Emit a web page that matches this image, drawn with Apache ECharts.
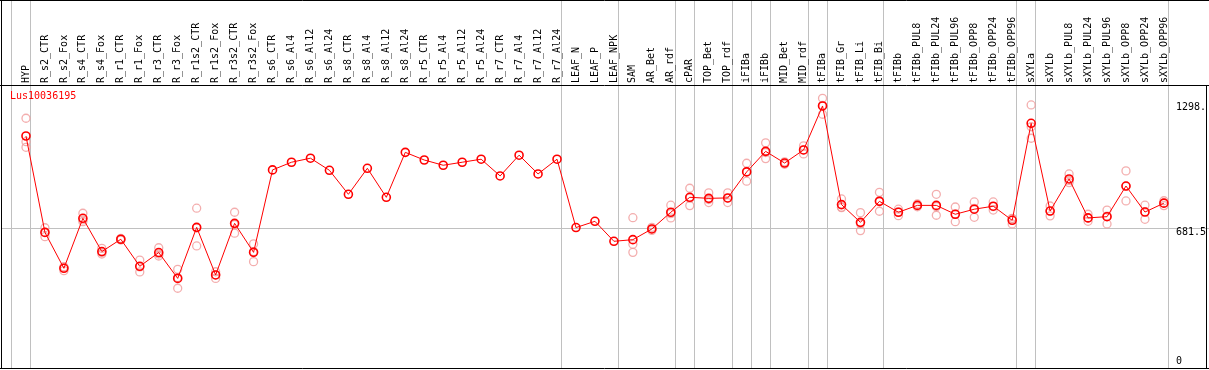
<!DOCTYPE html>
<html><head><meta charset="utf-8">
<script src="https://cdn.jsdelivr.net/npm/echarts@6/dist/echarts.min.js"></script>
<style>html,body{margin:0;padding:0;background:#fff}#c{width:1209px;height:370px}</style>
</head><body><div id="c"></div>
<script>
const categories = ['HYP','R_s2_CTR','R_s2_Fox','R_s4_CTR','R_s4_Fox','R_r1_CTR','R_r1_Fox','R_r3_CTR','R_r3_Fox','R_r1s2_CTR','R_r1s2_Fox','R_r3s2_CTR','R_r3s2_Fox','R_s6_CTR','R_s6_Al4','R_s6_Al12','R_s6_Al24','R_s8_CTR','R_s8_Al4','R_s8_Al12','R_s8_Al24','R_r5_CTR','R_r5_Al4','R_r5_Al12','R_r5_Al24','R_r7_CTR','R_r7_Al4','R_r7_Al12','R_r7_Al24','LEAF_N','LEAF_P','LEAF_NPK','SAM','AR_Bet','AR_rdf','cPAR','TOP_Bet','TOP_rdf','iFIBa','iFIBb','MID_Bet','MID_rdf','tFIBa','tFIB_Gr','tFIB_Li','tFIB_Bi','tFIBb','tFIBb_PUL8','tFIBb_PUL24','tFIBb_PUL96','tFIBb_OPP8','tFIBb_OPP24','tFIBb_OPP96','sXYLa','sXYLb','sXYLb_PUL8','sXYLb_PUL24','sXYLb_PUL96','sXYLb_OPP8','sXYLb_OPP24','sXYLb_OPP96'];
const means = [1138,660,482,730,565,626,492,560,432,685,449,705,561,970,1008,1028,968,849,978,834,1057,1019,993,1008,1023,940,1043,950,1023,684,715,616,624,677,760,834,829,831,960,1062,1004,1069,1287,798,710,814,760,794,794,750,775,790,720,1201,766,925,732,738,890,761,805];
const rep1 = [1226,683,490,755,581,630,523,584,477,780,465,760,603,null,null,null,null,null,null,null,null,null,null,null,null,null,null,null,null,null,null,null,733,685,795,879,856,856,1003,1104,1010,1089,1325,826,758,859,775,801,849,786,811,811,730,1292,791,950,750,771,965,795,817];
const rep2 = [1082,639,470,722,553,622,464,543,383,593,432,656,515,null,null,null,null,null,null,null,null,null,null,null,null,null,null,null,null,null,null,null,601,670,732,793,808,808,914,1026,998,1049,1246,783,669,765,743,787,745,713,735,771,702,1127,742,907,715,702,816,725,793];
const rep3 = [1110,660,485,713,561,626,489,553,436,682,450,699,565,null,null,null,null,null,null,null,null,null,null,null,null,null,null,null,null,null,null,null,561,677,753,830,823,829,963,1056,1004,1069,1290,785,703,818,762,794,788,751,779,788,728,1184,765,918,731,741,889,763,805];
const yTicks = [0, 681.5, 1298];
const yTickLabels = ['0', '681.5', '1298.'];
const separatorsAfter = [-1, 0, 28, 31, 34, 35, 37, 38, 39, 41, 42, 45, 52, 53, 60];
const refLineValue = 681.5;
const geneName = 'Lus10036195';

const FONT = 'DejaVu Sans Mono';
const repData = [];
[rep1, rep2, rep3].forEach(r => r.forEach((v, i) => { if (v != null) repData.push([i, v]); }));

const chart = echarts.init(document.getElementById('c'), null, {renderer: 'canvas'});
chart.setOption({
  animation: false,
  backgroundColor: '#fff',
  title: {
    text: geneName, left: 10, top: 91, padding: 0,
    textStyle: {color: '#ff0000', fontSize: 10, fontFamily: FONT, fontWeight: 'normal'}
  },
  grid: {left: 16.5, width: 1159, top: 85, height: 280.5, containLabel: false},
  xAxis: {
    type: 'category', data: categories, position: 'top', boundaryGap: true,
    axisLine: {show: false}, axisTick: {show: false}, splitLine: {show: false},
    axisLabel: {interval: 0, rotate: 90, margin: 2, fontSize: 10, fontFamily: FONT, color: '#000', hideOverlap: false}
  },
  yAxis: {
    type: 'value', position: 'right', min: 0, max: 1391,
    axisLine: {show: false}, axisTick: {show: false}, splitLine: {show: false},
    axisLabel: {
      customValues: yTicks, margin: 2.5, fontSize: 10, fontFamily: FONT, color: '#000',
      formatter: function (v) {
        const i = yTicks.indexOf(v);
        const s = i >= 0 ? yTickLabels[i] : String(v);
        return v === 0 ? '{b|' + s + '}' : '{t|' + s + '}';
      },
      rich: {
        t: {padding: [8, 0, 0, 0], fontSize: 10, fontFamily: FONT, color: '#000'},
        b: {padding: [0, 0, 8, 0], fontSize: 10, fontFamily: FONT, color: '#000'}
      }
    }
  },
  series: [
    {
      type: 'scatter', name: 'reps', silent: true, z: 2,
      data: repData, symbol: 'circle', symbolSize: 8,
      itemStyle: {color: 'rgba(0,0,0,0)', borderColor: '#f09a9a', borderWidth: 1.3}
    },
    {
      type: 'line', name: 'mean', silent: true, z: 3,
      data: means, symbol: 'circle', symbolSize: 8, showAllSymbol: true,
      lineStyle: {color: '#ff0000', width: 1},
      itemStyle: {color: 'rgba(0,0,0,0)', borderColor: '#ff0000', borderWidth: 1.6}
    }
  ]
});

// Separators and reference line positioned through the chart's own scales
const p0 = chart.convertToPixel({gridIndex: 0}, [0, refLineValue]);
const p1 = chart.convertToPixel({gridIndex: 0}, [1, refLineValue]);
const band = p1[0] - p0[0];
const refY = Math.round(p0[1]) + 0.5;
const gfx = [];
separatorsAfter.forEach(i => {
  const px = chart.convertToPixel({gridIndex: 0}, [Math.max(i, 0), 0])[0];
  const x = Math.round(px + Math.min(i, 0) * band + 4) + 0.5;
  gfx.push({type: 'line', silent: true, z: 0, shape: {x1: x, y1: 1, x2: x, y2: 368}, style: {stroke: '#c0c0c0', lineWidth: 1}});
});
gfx.push({type: 'line', silent: true, z: 0, shape: {x1: 1, y1: refY, x2: 1209, y2: refY}, style: {stroke: '#c0c0c0', lineWidth: 1}});
[
  [0, 0.5, 1209, 0.5], [0, 85.5, 1209, 85.5], [0, 368.5, 1209, 368.5],
  [1.5, 0, 1.5, 369], [1206.5, 85, 1206.5, 369]
].forEach(s => gfx.push({type: 'line', silent: true, z: 10, shape: {x1: s[0], y1: s[1], x2: s[2], y2: s[3]}, style: {stroke: '#000', lineWidth: 1}}));
chart.setOption({graphic: gfx});
</script></body></html>
